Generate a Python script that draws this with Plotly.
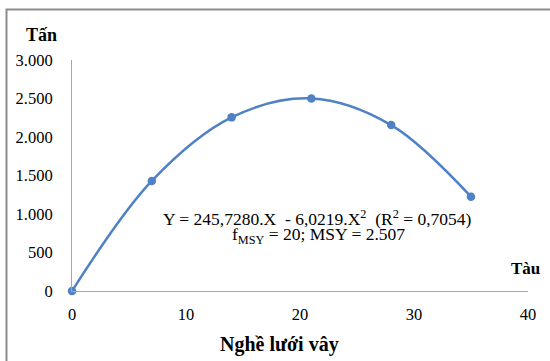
import plotly.graph_objects as go

boats = [0, 7, 14, 21, 28, 35]
catch_tonnes = [0, 1430, 2255, 2500, 2155, 1225]
x_ticks = [0, 10, 20, 30, 40]
y_ticks = [0, 500, 1000, 1500, 2000, 2500, 3000]

W, H = 550, 361
L, R, T, B = 72, 22, 60, 70
pw, ph = W - L - R, H - T - B

def px(x):
    return (x - L) / pw

def py(y):
    return (H - B - y) / ph

blue = "#4F81C4"
font_fam = "Times New Roman, Liberation Serif, Tinos, DejaVu Serif"

def ann(text, x, y, size=16):
    return dict(text=text, x=px(x), y=py(y), xref="paper", yref="paper",
                xanchor="center", yanchor="middle", showarrow=False,
                font=dict(family=font_fam, size=size, color="#000"))

fig = go.Figure()
fig.add_trace(go.Scatter(
    x=boats, y=catch_tonnes, mode="lines+markers",
    line=dict(color=blue, width=2.5, shape="spline", smoothing=1.0),
    marker=dict(color=blue, size=8.5),
    showlegend=False, cliponaxis=False,
))

fig.update_layout(
    width=W, height=H,
    margin=dict(l=L, r=R, t=T, b=B),
    paper_bgcolor="white", plot_bgcolor="white",
    separators=",.",
    font=dict(family=font_fam, size=16, color="#000"),
    xaxis=dict(range=[0, 40], tickvals=x_ticks, showgrid=False, zeroline=False,
               showline=True, linecolor="#A6A6A6", linewidth=1, ticks="",
               ticklabelstandoff=8,
               tickfont=dict(family=font_fam, size=16.5, color="#000")),
    yaxis=dict(range=[0, 3000], tickvals=y_ticks, tickformat=",", showgrid=False,
               zeroline=False, showline=True, linecolor="#A6A6A6", linewidth=1,
               ticks="", ticklabelstandoff=15,
               tickfont=dict(family=font_fam, size=16.5, color="#000")),
    shapes=[dict(type="rect", xref="paper", yref="paper",
                 x0=px(6.5), x1=px(570), y0=py(380), y1=py(9.5),
                 line=dict(color="#8C8C8C", width=2), fillcolor="rgba(0,0,0,0)",
                 layer="below")],
    annotations=[
        ann("<b>Tấn</b>", 41, 35, 18),
        ann("<b>Tàu</b>", 525, 268, 17),
        ann("<b>Nghề lưới vây</b>", 279, 344, 20),
        ann("Y = 245,7280.X&nbsp; - 6,0219.X<sup>2</sup>&nbsp; (R<sup>2</sup> = 0,7054)", 317, 218, 17.5),
        ann("f<sub>MSY</sub> = 20; MSY = 2.507", 318, 235, 17.5),
    ],
)

fig.write_html("out.html")
